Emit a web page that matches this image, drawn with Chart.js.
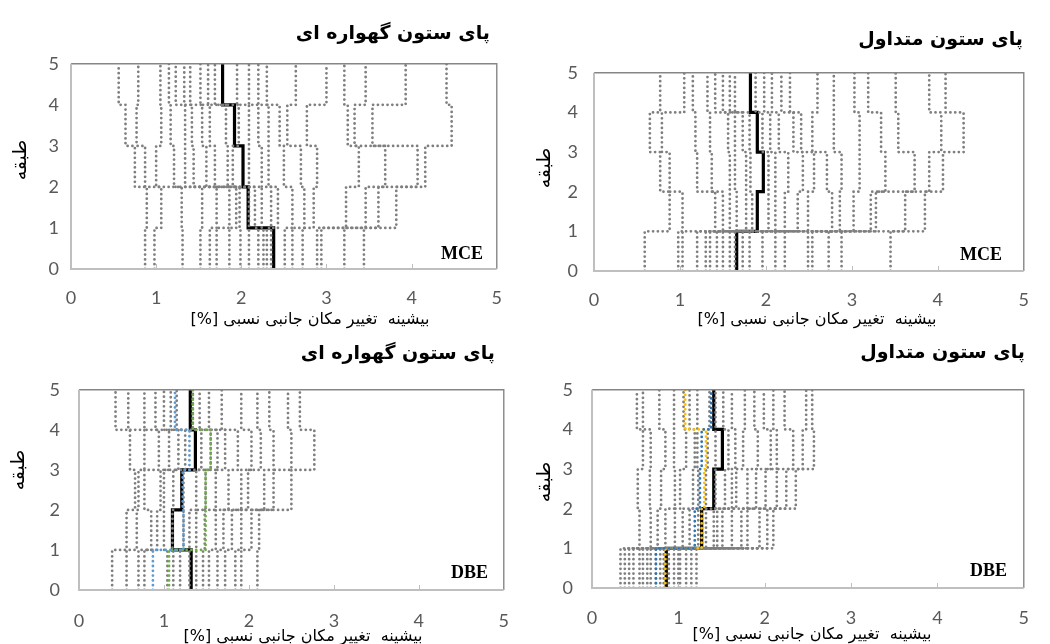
<!DOCTYPE html>
<html lang="fa">
<head>
<meta charset="utf-8">
<script src="https://cdn.jsdelivr.net/npm/chart.js@4.4.1/dist/chart.umd.min.js"></script>
<style>
  html, body { margin: 0; padding: 0; background: #fff; }
  body { width: 1050px; height: 644px; position: relative; overflow: hidden; font-family: "DejaVu Sans", sans-serif; }
  canvas { position: absolute; }
  .title { position: absolute; font-weight: bold; font-size: 19px; color: #000; white-space: nowrap; direction: rtl; transform: translate(-100%, -50%); }
  .xlab { position: absolute; font-size: 16px; color: #000; white-space: nowrap; direction: rtl; transform: translate(-50%, -50%); }
  .ylab { position: absolute; font-size: 19px; color: #000; white-space: nowrap; direction: rtl; transform: translate(-50%, -50%) rotate(-90deg); }
  .level { position: absolute; font-family: "Liberation Serif", serif; font-weight: bold; font-size: 18px; color: #000; transform: translate(-100%, -50%); }
</style>
</head>
<body>
<canvas id="cradleMce" width="520" height="274" style="left:0px;top:41px"></canvas>
<canvas id="convMce" width="525" height="271" style="left:522px;top:46px"></canvas>
<canvas id="cradleDbe" width="529" height="276" style="left:0px;top:360px"></canvas>
<canvas id="convDbe" width="526" height="274" style="left:522px;top:360px"></canvas>

<div class="title" style="left:490px;top:32px">پای ستون گهواره ای</div>
<div class="title" style="left:1023px;top:38px">پای ستون متداول</div>
<div class="title" style="left:495px;top:352px">پای ستون گهواره ای</div>
<div class="title" style="left:1025px;top:351px">پای ستون متداول</div>

<div class="xlab" style="left:310px;top:318px">بیشینه&nbsp; تغییر مکان جانبی نسبی [%]</div>
<div class="xlab" style="left:817px;top:318px">بیشینه&nbsp; تغییر مکان جانبی نسبی [%]</div>
<div class="xlab" style="left:303px;top:635px">بیشینه&nbsp; تغییر مکان جانبی نسبی [%]</div>
<div class="xlab" style="left:812px;top:633px">بیشینه&nbsp; تغییر مکان جانبی نسبی [%]</div>

<div class="ylab" style="left:19px;top:160px">طبقه</div>
<div class="ylab" style="left:543px;top:168px">طبقه</div>
<div class="ylab" style="left:17px;top:470px">طبقه</div>
<div class="ylab" style="left:543px;top:482px">طبقه</div>

<div class="level" style="left:483px;top:253px">MCE</div>
<div class="level" style="left:1002px;top:254px">MCE</div>
<div class="level" style="left:488px;top:572px">DBE</div>
<div class="level" style="left:1007px;top:570px">DBE</div>

<script>
// storey levels and axis ticks
const storeys = [0, 1, 2, 3, 4, 5];
const driftTicks = [0, 1, 2, 3, 4, 5];

// cradle column base, MCE (one value per record, per storey)
const cradleMceS1 = [0.87, 0.98, 1.31, 1.52, 1.63, 1.71, 1.86, 1.99, 2.09, 2.2, 2.26, 2.3, 2.35, 2.51, 2.6, 2.72, 2.89, 2.94, 3.21, 3.44];
const cradleMceS2 = [0.89, 1.06, 1.3, 1.54, 1.71, 1.86, 1.94, 1.98, 2.09, 2.16, 2.24, 2.35, 2.43, 2.6, 2.74, 2.85, 3.23, 3.46, 3.61, 3.82];
const cradleMceS3 = [0.75, 0.87, 1.0, 1.21, 1.34, 1.44, 1.59, 1.69, 1.84, 1.9, 2.09, 2.24, 2.32, 2.5, 2.7, 2.89, 3.38, 3.69, 4.07, 4.16];
const cradleMceS4 = [0.64, 0.77, 1.06, 1.17, 1.34, 1.42, 1.54, 1.63, 1.82, 1.97, 2.09, 2.2, 2.32, 2.45, 2.54, 2.77, 3.25, 3.33, 3.54, 4.47];
const cradleMceS5 = [0.56, 0.79, 1.05, 1.15, 1.23, 1.33, 1.4, 1.52, 1.61, 1.69, 1.95, 2.09, 2.2, 2.3, 2.64, 3.0, 3.21, 3.46, 3.93, 4.41];
const cradleMceMedian = [2.38, 2.08, 2.02, 1.92, 1.78];

// conventional column base, MCE
const convMceS1 = [0.59, 0.98, 1.03, 1.2, 1.3, 1.35, 1.43, 1.5, 1.58, 1.64, 1.73, 1.81, 1.96, 2.11, 2.22, 2.49, 2.54, 2.73, 2.88, 3.45];
const convMceS2 = [0.88, 1.03, 1.41, 1.5, 1.58, 1.66, 1.77, 1.84, 2.03, 2.11, 2.22, 2.37, 2.49, 2.77, 2.86, 3.02, 3.22, 3.28, 3.62, 3.85];
const convMceS3 = [0.77, 0.88, 1.2, 1.37, 1.58, 1.64, 1.77, 1.82, 2.03, 2.11, 2.26, 2.43, 2.56, 2.71, 2.88, 3.09, 3.39, 3.73, 3.9, 4.06];
const convMceS4 = [0.65, 0.79, 1.18, 1.35, 1.56, 1.64, 1.73, 1.81, 1.96, 2.05, 2.15, 2.32, 2.41, 2.54, 2.79, 3.09, 3.34, 3.54, 4.04, 4.3];
const convMceS5 = [0.77, 1.05, 1.15, 1.32, 1.41, 1.5, 1.58, 1.64, 1.88, 1.98, 2.07, 2.18, 2.28, 2.6, 2.79, 3.03, 3.19, 3.51, 3.9, 4.09];
const convMceMedian = [1.66, 1.9, 1.97, 1.9, 1.82];

// cradle column base, DBE
const cradleDbeS1 = [0.39, 0.56, 0.7, 0.77, 1.04, 1.11, 1.19, 1.3, 1.38, 1.46, 1.53, 1.63, 1.72, 1.84, 1.91, 2.1];
const cradleDbeS2 = [0.56, 0.68, 0.85, 0.92, 1.0, 1.1, 1.23, 1.3, 1.38, 1.48, 1.61, 1.7, 1.8, 1.91, 2.03, 2.12];
const cradleDbeS3 = [0.66, 0.7, 0.77, 0.96, 1.0, 1.11, 1.23, 1.38, 1.49, 1.61, 1.76, 1.91, 1.99, 2.18, 2.29, 2.5];
const cradleDbeS4 = [0.6, 0.77, 0.94, 1.06, 1.17, 1.25, 1.44, 1.55, 1.63, 1.72, 1.87, 2.03, 2.14, 2.29, 2.5, 2.77];
const cradleDbeS5 = [0.43, 0.58, 0.77, 0.9, 1.0, 1.08, 1.15, 1.34, 1.42, 1.53, 1.68, 1.91, 2.1, 2.24, 2.46, 2.6];
const cradleDbeMedian = [1.32, 1.1, 1.21, 1.37, 1.31];
const cradleDbeBlue = [0.87, 1.23, 1.22, 1.3, 1.13];
const cradleDbeGreen = [1.06, 1.49, 1.49, 1.55, 1.34];

// conventional column base, DBE
const convDbeS1 = [0.33, 0.38, 0.43, 0.48, 0.55, 0.59, 0.64, 0.68, 0.74, 0.79, 0.83, 0.89, 0.95, 1.0, 1.02, 1.09, 1.15, 1.21];
const convDbeS2 = [0.55, 0.68, 0.76, 0.85, 0.96, 1.05, 1.13, 1.23, 1.32, 1.41, 1.45, 1.51, 1.62, 1.73, 1.8, 1.94, 2.03, 2.1];
const convDbeS3 = [0.53, 0.67, 0.8, 0.96, 1.02, 1.17, 1.23, 1.32, 1.43, 1.54, 1.62, 1.67, 1.8, 1.9, 2.01, 2.14, 2.25, 2.36];
const convDbeS4 = [0.59, 0.68, 0.85, 0.95, 1.09, 1.19, 1.22, 1.34, 1.43, 1.58, 1.66, 1.75, 1.92, 2.07, 2.14, 2.33, 2.44, 2.57];
const convDbeS5 = [0.52, 0.59, 0.78, 0.95, 1.06, 1.13, 1.22, 1.36, 1.43, 1.52, 1.62, 1.77, 1.88, 1.99, 2.1, 2.23, 2.48, 2.55];
const convDbeMedian = [0.86, 1.27, 1.41, 1.51, 1.41];
const convDbeBlue = [0.74, 1.19, 1.25, 1.27, 1.38];
const convDbeYellow = [0.85, 1.27, 1.3, 1.32, 1.08];

// turn storey drifts into a step profile: vertical run per storey, jump at each floor
function stepPoints(vals) {
    const pts = [];
    vals.forEach((v, i) => {
        pts.push({ x: v, y: storeys[i] });
        pts.push({ x: v, y: storeys[i + 1] });
    });
    return pts;
}

function records(s1, s2, s3, s4, s5) {
    return s1.map((v, i) => [v, s2[i], s3[i], s4[i], s5[i]]);
}

function dotted(vals, color) {
    return {
        data: stepPoints(vals),
        showLine: true,
        borderColor: color,
        borderWidth: 2.8,
        borderDash: [0, 4.8],
        borderCapStyle: 'round',
        pointRadius: 0
    };
}

// plot frame + small inward ticks on the drift axis
const frame = {
    id: 'frame',
    afterDatasetsDraw(chart) {
        const a = chart.chartArea;
        const ctx = chart.ctx;
        ctx.save();
        ctx.lineWidth = 1.4;
        ctx.strokeStyle = '#868686';
        ctx.beginPath();
        ctx.moveTo(a.left, a.top);
        ctx.lineTo(a.right, a.top);
        ctx.lineTo(a.right, a.bottom);
        ctx.stroke();
        ctx.strokeStyle = '#BFBFBF';
        ctx.lineWidth = 2;
        ctx.beginPath();
        ctx.moveTo(a.left, a.top);
        ctx.lineTo(a.left, a.bottom);
        ctx.lineTo(a.right, a.bottom);
        ctx.stroke();
        ctx.lineWidth = 1;
        driftTicks.slice(1, -1).forEach(t => {
            const x = Math.round(chart.scales.x.getPixelForValue(t)) + 0.5;
            ctx.beginPath();
            ctx.moveTo(x, a.bottom);
            ctx.lineTo(x, a.bottom - 5);
            ctx.stroke();
        });
        ctx.restore();
    }
};

function renderPanel(id, recs, extras, median, box) {
    // coloured records sit underneath the grey ones, median on top
    const datasets = extras.map(e => dotted(e.vals, e.color));
    recs.forEach(r => datasets.push(dotted(r, '#7F7F7F')));
    datasets.push({
        data: stepPoints(median),
        showLine: true,
        borderColor: '#000000',
        borderWidth: 3.2,
        pointRadius: 0
    });
    const tickFont = { family: 'Lato', size: 18 };
    new Chart(document.getElementById(id), {
        type: 'scatter',
        data: { datasets },
        options: {
            responsive: false,
            animation: false,
            events: [],
            layout: { padding: { top: 12, right: box.padRight, left: 0, bottom: 0 } },
            plugins: { legend: { display: false }, tooltip: { enabled: false } },
            scales: {
                x: {
                    type: 'linear', min: 0, max: 5,
                    afterBuildTicks: s => { s.ticks = driftTicks.map(v => ({ value: v })); },
                    ticks: { padding: box.xPad, color: '#595959', font: tickFont, callback: v => v },
                    grid: { display: false, drawTicks: false },
                    border: { display: false },
                    afterFit: s => { s.height = 46; }
                },
                y: {
                    type: 'linear', min: 0, max: 5,
                    afterBuildTicks: s => { s.ticks = storeys.map(v => ({ value: v })); },
                    ticks: { padding: box.yPad, color: '#595959', font: tickFont, callback: v => v },
                    grid: { display: false, drawTicks: false },
                    border: { display: false },
                    afterFit: s => { s.width = box.yWidth; }
                }
            }
        },
        plugins: [frame]
    });
}

renderPanel('cradleMce', records(cradleMceS1, cradleMceS2, cradleMceS3, cradleMceS4, cradleMceS5), [], cradleMceMedian,
    { yWidth: 71, yPad: 12, xPad: 18, padRight: 12 });
renderPanel('convMce', records(convMceS1, convMceS2, convMceS3, convMceS4, convMceS5), [], convMceMedian,
    { yWidth: 72, yPad: 16, xPad: 18, padRight: 12 });
renderPanel('cradleDbe', records(cradleDbeS1, cradleDbeS2, cradleDbeS3, cradleDbeS4, cradleDbeS5),
    [{ vals: cradleDbeBlue, color: '#5B9BD5' }, { vals: cradleDbeGreen, color: '#70AD47' }], cradleDbeMedian,
    { yWidth: 79, yPad: 19, xPad: 20, padRight: 12 });
renderPanel('convDbe', records(convDbeS1, convDbeS2, convDbeS3, convDbeS4, convDbeS5),
    [{ vals: convDbeBlue, color: '#2E75B6' }, { vals: convDbeYellow, color: '#FFC000' }], convDbeMedian,
    { yWidth: 70, yPad: 19, xPad: 19, padRight: 10 });
</script>
</body>
</html>
